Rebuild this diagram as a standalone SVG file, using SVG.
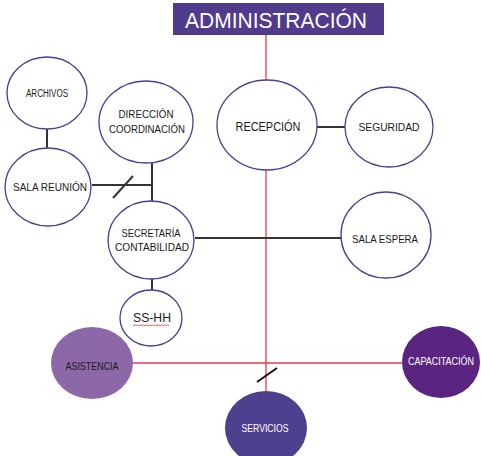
<svg xmlns="http://www.w3.org/2000/svg" width="481" height="456" viewBox="0 0 481 456">
<style>
.n{fill:#fff;stroke:#4b3d95;stroke-width:1.3}
.t{font-family:"Liberation Sans",Arial,sans-serif;font-size:11.5px;fill:#1a1a1a;text-anchor:middle}
.w{fill:#fff}
.k{stroke:#333;stroke-width:2;fill:none}
.r{stroke:#ec3a48;stroke-width:1.3;fill:none}
</style>
<rect width="481" height="456" fill="#fff"/>
<g id="connectors">
<line class="r" x1="266" y1="35" x2="266" y2="80"/>
<line class="r" x1="266" y1="169" x2="266" y2="391"/>
<line class="r" x1="132" y1="363" x2="402" y2="363"/>
<line class="k" x1="47" y1="129" x2="47" y2="148"/>
<line class="k" x1="92" y1="185" x2="152" y2="185"/>
<line class="k" x1="152" y1="163" x2="152" y2="202"/>
<line class="k" x1="113" y1="198" x2="133" y2="176"/>
<line class="k" x1="317" y1="127" x2="345" y2="127"/>
<line class="k" x1="195" y1="238" x2="341" y2="238"/>
<line class="k" x1="152" y1="279" x2="152" y2="290"/>
<line stroke="#111" stroke-width="2" x1="257" y1="382" x2="277" y2="368"/>
</g>
<g id="administracion">
<rect x="173" y="3" width="211" height="32" fill="#503b8d"/>
<text x="276" y="28" class="t w" style="font-size:22px" textLength="182" lengthAdjust="spacingAndGlyphs">ADMINISTRACIÓN</text>
</g>
<g id="archivos">
<ellipse class="n" cx="47" cy="93" rx="40" ry="36"/>
<text x="47" y="97" class="t" style="font-size:10px" textLength="42" lengthAdjust="spacingAndGlyphs">ARCHIVOS</text>
</g>
<g id="sala-reunion">
<ellipse class="n" cx="48" cy="187" rx="43" ry="39"/>
<text x="50" y="191" class="t" textLength="74" lengthAdjust="spacingAndGlyphs">SALA REUNIÓN</text>
</g>
<g id="direccion">
<ellipse class="n" cx="146" cy="122" rx="47" ry="41"/>
<text x="146" y="118" class="t" textLength="55" lengthAdjust="spacingAndGlyphs">DIRECCIÓN</text>
<text x="147" y="133" class="t" textLength="76" lengthAdjust="spacingAndGlyphs">COORDINACIÓN</text>
</g>
<g id="recepcion">
<ellipse class="n" cx="267" cy="125" rx="50" ry="45"/>
<text x="268" y="131" class="t" style="font-size:12.5px" textLength="65" lengthAdjust="spacingAndGlyphs">RECEPCIÓN</text>
</g>
<g id="seguridad">
<ellipse class="n" cx="389" cy="127" rx="44" ry="40"/>
<text x="389" y="131" class="t" textLength="61" lengthAdjust="spacingAndGlyphs">SEGURIDAD</text>
</g>
<g id="secretaria">
<ellipse class="n" cx="151" cy="240" rx="43" ry="39"/>
<text x="151" y="237" class="t" textLength="59" lengthAdjust="spacingAndGlyphs">SECRETARÍA</text>
<text x="152" y="251" class="t" textLength="74" lengthAdjust="spacingAndGlyphs">CONTABILIDAD</text>
</g>
<g id="sala-espera">
<ellipse class="n" cx="386" cy="235" rx="45" ry="43"/>
<text x="385" y="243" class="t" textLength="66" lengthAdjust="spacingAndGlyphs">SALA ESPERA</text>
</g>
<g id="ss-hh">
<ellipse class="n" cx="151" cy="318" rx="31" ry="28"/>
<text x="152" y="322" class="t" style="font-size:12px" textLength="38" lengthAdjust="spacingAndGlyphs">SS-HH</text>
<path d="M133 326 l1.5 -1.2 l1.5 1.2 l1.5 -1.2 l1.5 1.2 l1.5 -1.2 l1.5 1.2 l1.5 -1.2 l1.5 1.2 l1.5 -1.2 l1.5 1.2 l1.5 -1.2 l1.5 1.2 l1.5 -1.2 l1.5 1.2 l1.5 -1.2 l1.5 1.2 l1.5 -1.2 l1.5 1.2 l1.5 -1.2 l1.5 1.2 l1.5 -1.2 l1.5 1.2 l1.5 -1.2 l1.5 1.2" fill="none" stroke="#e33" stroke-width="0.8"/>
</g>
<g id="asistencia">
<ellipse cx="92" cy="363" rx="41" ry="36" fill="#8c68a8"/>
<text x="92" y="370" class="t" style="font-size:10.5px" textLength="53" lengthAdjust="spacingAndGlyphs">ASISTENCIA</text>
</g>
<g id="capacitacion">
<ellipse cx="441" cy="362" rx="39" ry="36" fill="#5a2481"/>
<text x="441" y="365" class="t w" style="font-size:10px" textLength="66" lengthAdjust="spacingAndGlyphs">CAPACITACIÓN</text>
</g>
<g id="servicios">
<ellipse cx="266" cy="428" rx="41" ry="37" fill="#4f3f8f"/>
<text x="265" y="432" class="t w" style="font-size:10.5px" textLength="47" lengthAdjust="spacingAndGlyphs">SERVICIOS</text>
</g>
</svg>
